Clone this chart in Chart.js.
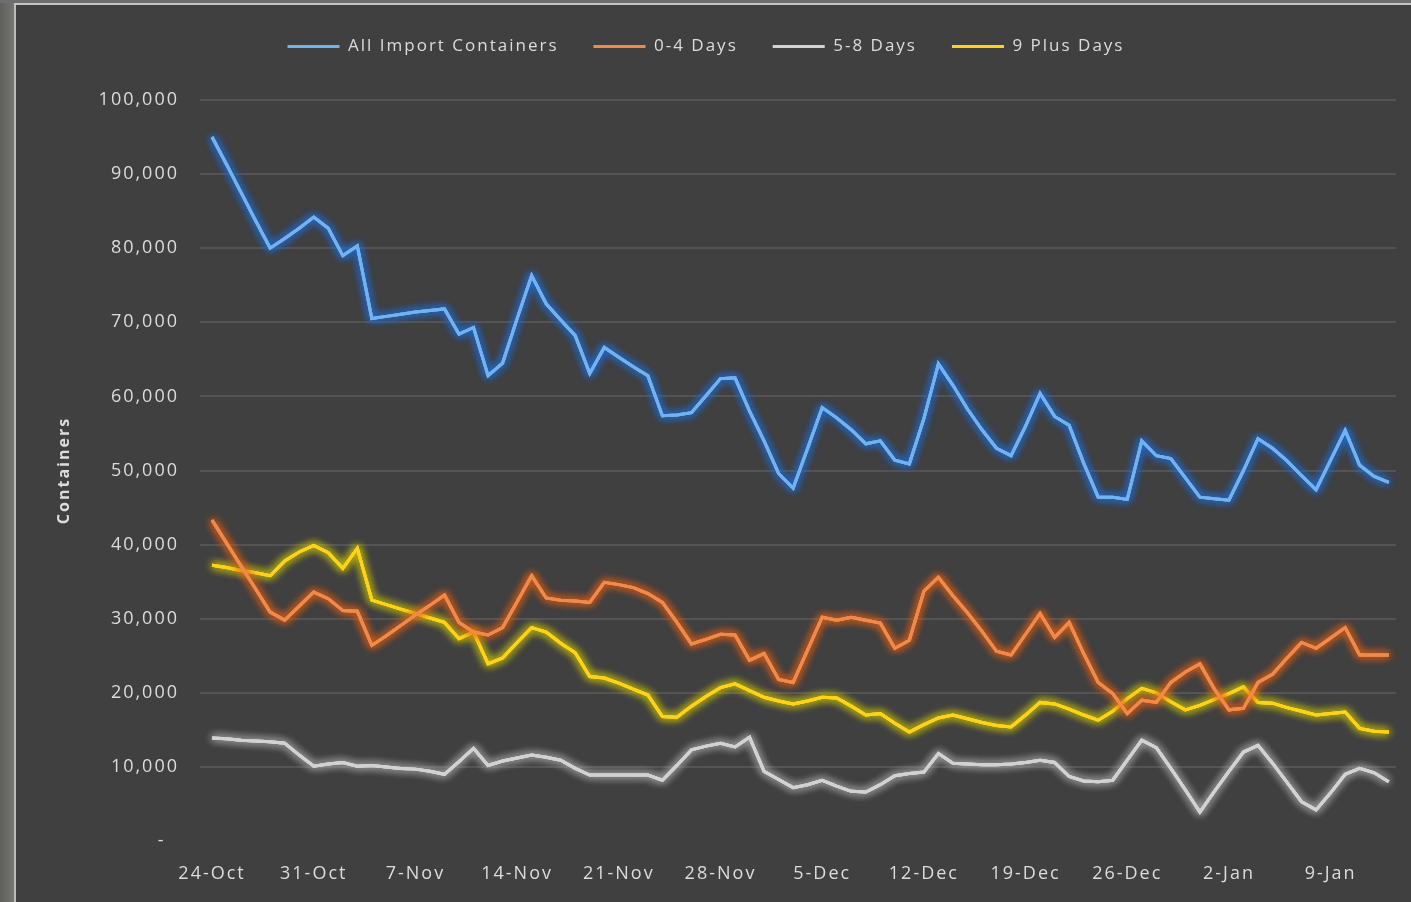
<!DOCTYPE html>
<html>
<head>
<meta charset="utf-8">
<script src="https://cdn.jsdelivr.net/npm/chart.js@4.4.1/dist/chart.umd.min.js"></script>
<style>
html,body{margin:0;padding:0;width:1411px;height:902px;overflow:hidden;background:#404040;}
#strip{position:absolute;left:0;top:0;width:14px;height:902px;background:linear-gradient(90deg,#5e5e5b,#767672);}
#vline{position:absolute;left:14px;top:0;width:2px;height:902px;background:#bdbdbd;}
#topstrip{position:absolute;left:0;top:0;width:1411px;height:3px;background:#6e6e6e;}
#hline{position:absolute;left:14px;top:3px;width:1397px;height:2px;background:#c4c4c4;}
#wrap{position:absolute;left:16px;top:5px;width:1395px;height:897px;}
</style>
</head>
<body>
<div id="strip"></div><div id="vline"></div><div id="topstrip"></div><div id="hline"></div>
<div id="wrap"><canvas id="c"></canvas></div>
<script>
// x tick labels, one every 7 days starting 24-Oct (day index 0)
const xTickLabels = ['24-Oct','31-Oct','7-Nov','14-Nov','21-Nov','28-Nov','5-Dec','12-Dec','19-Dec','26-Dec','2-Jan','9-Jan'];
const yTickValues = [0,10000,20000,30000,40000,50000,60000,70000,80000,90000,100000];
const seriesNames = ['All Import Containers','0-4 Days','5-8 Days','9 Plus Days'];

// daily values, 24-Oct .. 13-Jan (82 days)
const allImport = [95000,91300,87500,83700,80000,81300,82700,84200,82700,79000,80300,70500,70800,71100,71400,71600,71800,68400,69300,62800,
64500,70500,76300,72500,70300,68200,63100,66600,65300,64000,62800,57400,57500,57800,60100,62400,62500,58000,54000,49600,
47600,53000,58500,57100,55500,53600,54000,51400,50900,57000,64400,61500,58300,55500,53000,52000,56000,60400,57300,56100,
51000,46400,46400,46100,54000,52000,51600,49000,46400,46200,46000,50000,54300,53000,51300,49300,47400,51400,55400,50700,
49200,48400];
const days0to4 = [43300,40200,37100,34000,30900,29800,31700,33600,32700,31100,31000,26400,27700,29100,30500,31800,33200,29500,28200,27800,
28800,32300,35800,32800,32500,32400,32200,34900,34600,34200,33400,32200,29500,26600,27200,27900,27800,24400,25300,21800,
21400,25800,30200,29800,30200,29800,29400,26000,27100,33700,35600,33100,30800,28300,25600,25100,27900,30700,27500,29500,
25300,21400,19900,17200,19000,18700,21400,22800,23900,20500,17700,17900,21400,22500,24700,26800,26000,27400,28800,25100,
25100,25100];
const days5to8 = [13900,13800,13600,13500,13400,13200,11600,10100,10400,10600,10100,10200,10000,9800,9700,9400,9000,10700,12500,10200,
10800,11200,11600,11300,10900,9800,8900,8900,8900,8900,8900,8200,10200,12300,12800,13200,12700,14000,9400,8300,
7200,7600,8200,7400,6700,6600,7600,8800,9100,9300,11800,10500,10400,10300,10300,10400,10600,10900,10600,8700,
8100,8000,8200,10900,13600,12600,9800,6900,3900,6700,9400,12000,12900,10500,7900,5300,4200,6500,9000,9800,
9200,8000];
const days9plus = [37200,36900,36500,36200,35800,37800,39000,39900,38900,36800,39500,32500,31900,31300,30700,30100,29500,27300,28200,23900,
24700,26800,28800,28200,26700,25400,22200,22000,21300,20500,19700,16800,16700,18200,19500,20700,21200,20300,19400,18900,
18500,18900,19400,19300,18200,17000,17200,15900,14700,15700,16600,17000,16500,16000,15600,15400,17000,18700,18500,17800,
17000,16300,17500,19200,20600,20000,18800,17700,18300,19100,19900,20800,18700,18600,18000,17500,17000,17200,17400,15200,
14800,14700];

const lineColors = ['#72b2ee','#f08a4a','#d2d2d2','#ffd21a'];
const glowColors = ['rgba(30,110,220,1)','rgba(225,95,20,1)','rgba(175,175,175,0.9)','rgba(205,200,0,1)'];

const toPoints = arr => arr.map((v,i)=>({x:i,y:v}));
const seriesData = [allImport,days0to4,days5to8,days9plus];

const spacingPlugin = {
  id:'spacing',
  beforeLayout(chart){ chart.ctx.letterSpacing='2px'; },
  beforeDraw(chart){ chart.ctx.letterSpacing='2px'; }
};
const glowPlugin = {
  id:'glow',
  beforeDatasetDraw(chart,args){
    const ctx=chart.ctx; const meta=args.meta;
    ctx.save();
    ctx.shadowColor = glowColors[args.index];
    ctx.shadowBlur = 9;
    for (let k=0;k<3;k++) meta.dataset.draw(ctx, chart.chartArea);
    ctx.restore();
  }
};
const legendHeightPlugin = {
  id:'legendHeight',
  beforeLayout(chart){
    const lg = chart.legend;
    if (lg && !lg._patched){
      const orig = lg.fit;
      lg.fit = function(){ orig.call(this); this.height += 35; };
      lg._patched = true;
    }
  }
};

new Chart(document.getElementById('c'),{
  type:'line',
  data:{
    datasets: seriesNames.map((n,k)=>({
      label:n,
      data:toPoints(seriesData[k]),
      borderColor:lineColors[k],
      backgroundColor:lineColors[k],
      borderWidth:3,
      pointRadius:0,
      tension:0,
      fill:false
    }))
  },
  options:{
    responsive:true,
    maintainAspectRatio:false,
    animation:false,
    layout:{padding:{top:-2,left:0,right:15,bottom:0}},
    plugins:{
      tooltip:{enabled:false},
      legend:{
        position:'top',
        align:'center',
        labels:{
          color:'#dcdcdc',
          font:{family:'Open Sans',size:17},
          boxWidth:52,
          boxHeight:3,
          padding:35,
          generateLabels(chart){
            const items = Chart.defaults.plugins.legend.labels.generateLabels(chart);
            items.forEach(it=>{ it.lineWidth=0; it.fillStyle=it.strokeStyle; });
            return items;
          }
        }
      }
    },
    scales:{
      x:{
        type:'linear',
        min:-0.83,
        max:81.5,
        afterBuildTicks(scale){ scale.ticks = xTickLabels.map((l,k)=>({value:k*7})); },
        afterFit(scale){ scale.height = 61; },
        grid:{display:false},
        border:{display:false},
        ticks:{
          autoSkip:false,maxRotation:0,padding:14,
          color:'#dcdcdc',
          font:{family:'Open Sans',size:18},
          callback:(v,i)=>xTickLabels[i]
        }
      },
      y:{
        min:0,max:100000,
        afterBuildTicks(scale){ scale.ticks = yTickValues.map(v=>({value:v})); },
        afterFit(scale){ scale.width = 184; },
        grid:{
          color:(c)=> c.tick && c.tick.value===0 ? 'rgba(0,0,0,0)' : '#545454',
          lineWidth:2,
          drawTicks:false
        },
        border:{display:false},
        title:{
          display:true,text:'Containers',color:'#dcdcdc',
          font:{family:'Open Sans',size:16,weight:'bold'},
          padding:{top:39,bottom:0}
        },
        ticks:{
          padding:21,
          color:'#dcdcdc',
          font:{family:'Open Sans',size:18},
          callback:(v)=> v===0 ? '-  ' : v.toLocaleString('en-US')
        }
      }
    }
  },
  plugins:[spacingPlugin,legendHeightPlugin,glowPlugin]
});
</script>
</body>
</html>
